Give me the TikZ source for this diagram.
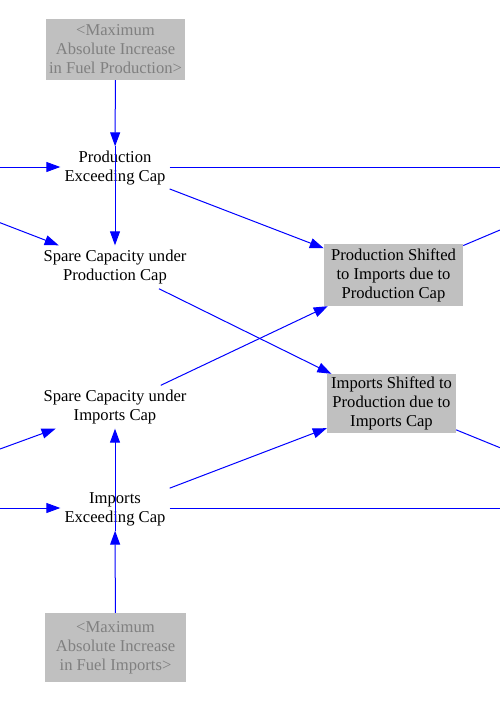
\documentclass[tikz,border=0pt]{standalone}
\usepackage{fontspec}
\setmainfont{Liberation Serif}
\usetikzlibrary{arrows.meta}
\definecolor{vblue}{HTML}{0000FF}
\definecolor{boxgray}{HTML}{C0C0C0}
\definecolor{ghosttext}{HTML}{808080}
\tikzset{
  varnode/.style={rectangle, align=center, inner xsep=4pt, inner ysep=0pt,
    minimum height=43pt, font=\fontsize{16.6pt}{19pt}\selectfont, text=black},
  shadowbox/.style={rectangle, align=center, inner sep=1pt, fill=boxgray,
    font=\fontsize{16.6pt}{19pt}\selectfont, text=ghosttext},
  graybox/.style={rectangle, align=center, inner sep=1pt, fill=boxgray,
    font=\fontsize{16.6pt}{19pt}\selectfont, text=black},
  link/.style={draw=vblue, line width=1pt, -{Triangle[length=14pt,width=10pt]}},
  plainlink/.style={draw=vblue, line width=1pt}
}
\begin{document}
\begin{tikzpicture}[x=1pt,y=-1pt]
\useasboundingbox (0,0) rectangle (500,702);
% nodes
\node[shadowbox, minimum width=139pt, minimum height=61pt] (maxp) at (115.5,49.5)
  {<Maximum\\Absolute Increase\\in Fuel Production>};
\node[varnode] (pec) at (115,168) {Production\\Exceeding Cap};
\node[varnode] (scupc) at (115,267) {Spare Capacity under\\Production Cap};
\node[graybox, minimum width=139pt, minimum height=62pt] (ps) at (393.5,275)
  {Production Shifted\\to Imports due to\\Production Cap};
\node[varnode] (scuic) at (115,407) {Spare Capacity under\\Imports Cap};
\node[graybox, minimum width=129pt, minimum height=59pt] (is) at (391.5,403.5)
  {Imports Shifted to\\Production due to\\Imports Cap};
\node[varnode] (iec) at (115,509) {Imports\\Exceeding Cap};
\node[shadowbox, minimum width=141pt, minimum height=69pt] (maxi) at (115.5,647.5)
  {<Maximum\\Absolute Increase\\in Fuel Imports>};
% free ends
\coordinate (lA) at (0,167);
\coordinate (lB) at (0,222.7);
\coordinate (lC) at (0,449);
\coordinate (lD) at (0,508);
\coordinate (rA) at (500,167);
\coordinate (rB) at (500,230);
\coordinate (rC) at (500,447.7);
\coordinate (rD) at (500,508);
% connectors
\draw[link] (maxp) -- (pec);
\draw[link] (lA) -- (lA -| pec.west);
\draw[plainlink] (pec.east |- rA) -- (rA);
\draw[link] (pec.north) -- (scupc);
\draw[link] (lB) -- (scupc);
\draw[link] (pec) -- (ps);
\draw[link] (scupc) -- (is);
\draw[plainlink] (ps) -- (rB);
\draw[link] (scuic) -- (ps);
\draw[link] (lC) -- (scuic);
\draw[link] (iec.south) -- (scuic);
\draw[link] (iec) -- (is);
\draw[plainlink] (is) -- (rC);
\draw[link] (lD) -- (lD -| iec.west);
\draw[plainlink] (iec.east |- rD) -- (rD);
\draw[link] (maxi) -- (iec);
\end{tikzpicture}
\end{document}
